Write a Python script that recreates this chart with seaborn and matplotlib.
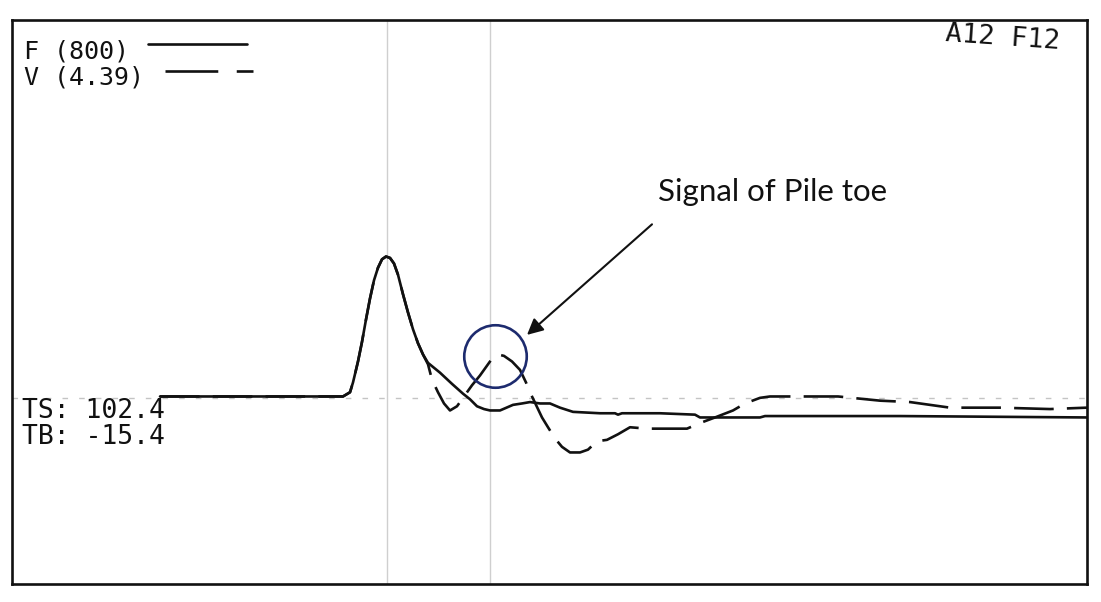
import matplotlib
matplotlib.use("Agg")
import matplotlib.pyplot as plt
import numpy as np
import pandas as pd
import seaborn as sns

# Pile integrity test record: force (solid) and velocity (dashed) traces
time_force = [2.96, 4.76, 5.76, 6.62, 6.76, 6.82, 6.92, 7.00, 7.08, 7.16, 7.24, 7.32,
              7.40, 7.48, 7.56, 7.64, 7.72, 7.82, 7.92, 8.02, 8.12, 8.22, 8.32, 8.56,
              8.80, 9.02, 9.16, 9.30, 9.44, 9.56, 9.76, 10.02, 10.20, 10.36, 10.56,
              10.76, 10.96, 11.22, 11.76, 12.06, 12.12, 12.20, 12.96, 13.66, 13.76,
              14.96, 15.06, 17.76, 21.50]
force = [0.01, 0.01, 0.01, 0.01, 0.04, 0.11, 0.26, 0.40, 0.56, 0.71, 0.84, 0.93,
         0.99, 1.01, 1.00, 0.96, 0.88, 0.74, 0.61, 0.49, 0.39, 0.31, 0.25, 0.18,
         0.10, 0.03, -0.01, -0.06, -0.08, -0.09, -0.09, -0.05, -0.04, -0.03, -0.04,
         -0.04, -0.07, -0.10, -0.11, -0.11, -0.12, -0.11, -0.11, -0.12, -0.14,
         -0.14, -0.13, -0.13, -0.14]

time_velocity = [2.96, 4.76, 5.76, 6.62, 6.76, 6.82, 6.92, 7.00, 7.08, 7.16, 7.24, 7.32,
                 7.40, 7.48, 7.56, 7.64, 7.72, 7.82, 7.92, 8.02, 8.12, 8.22, 8.32, 8.40,
                 8.52, 8.64, 8.76, 8.90, 9.06, 9.20, 9.36, 9.50, 9.62, 9.72, 9.84, 10.00,
                 10.16, 10.28, 10.36, 10.48, 10.60, 10.72, 10.86, 11.00, 11.16, 11.36,
                 11.52, 11.70, 11.90, 12.12, 12.36, 12.70, 13.50, 13.76, 14.06, 14.42,
                 14.66, 14.96, 15.16, 15.76, 16.52, 17.36, 17.96, 18.36, 18.76, 19.76,
                 20.76, 21.50]
velocity = [0.01, 0.01, 0.01, 0.01, 0.04, 0.11, 0.26, 0.40, 0.56, 0.71, 0.84, 0.93,
            0.99, 1.01, 1.00, 0.96, 0.88, 0.74, 0.61, 0.49, 0.39, 0.31, 0.24, 0.13,
            0.04, -0.04, -0.09, -0.06, 0.02, 0.09, 0.16, 0.23, 0.29, 0.31, 0.30, 0.26,
            0.20, 0.11, 0.04, -0.05, -0.14, -0.21, -0.29, -0.35, -0.39, -0.39,
            -0.37, -0.31, -0.30, -0.26, -0.21, -0.22, -0.22, -0.18, -0.14, -0.09,
            -0.04, 0.00, 0.01, 0.01, 0.01, -0.02, -0.03, -0.05, -0.07, -0.07,
            -0.08, -0.07]

cursor_times = [7.50, 9.56]          # vertical cursor lines
toe_time, toe_amp = 9.66, 0.30       # reflection marked as the pile toe signal

force_label = "F (800)"
velocity_label = "V (4.39)"
corner_label = "A12 F12"
ts_label = "TS: 102.4"
tb_label = "TB: -15.4"
note_label = "Signal of Pile toe"

sns.set_theme(style="white")
plt.rcParams["font.family"] = ["DejaVu Sans"]

W, H = 1101, 602
fig = plt.figure(figsize=(W / 100, H / 100), dpi=100)
fig.patch.set_facecolor("white")

# axes box in pixel terms
left_px, right_px, top_px, bottom_px = 12, 1087, 20, 584
ax = fig.add_axes([left_px / W, 1 - bottom_px / H,
                   (right_px - left_px) / W, (bottom_px - top_px) / H])
ax.set_xlim(0, 21.5)
ax.set_ylim(-1.33, 2.70)
ax.set_facecolor("white")
for s in ax.spines.values():
    s.set_color("#111111")
    s.set_linewidth(1.9)
ax.set_xticks([])
ax.set_yticks([])

# reference lines
ax.axhline(0, color="#c4c4c4", lw=1.0, linestyle=(0, (4, 8)), zorder=1)
for t in cursor_times:
    ax.axvline(t, color="#cfcfcf", lw=1.0, zorder=1)

df_f = pd.DataFrame({"t": time_force, "a": force})
df_v = pd.DataFrame({"t": time_velocity, "a": velocity})

sns.lineplot(data=df_v, x="t", y="a", ax=ax, color="#111111", lw=1.9,
             estimator=None, sort=False, linestyle=(0, (15, 5)), zorder=3)
sns.lineplot(data=df_f, x="t", y="a", ax=ax, color="#111111", lw=1.9,
             estimator=None, sort=False, zorder=3)
ax.set_xlabel("")
ax.set_ylabel("")

# legend-like header
mono = ["DejaVu Sans Mono"]
fig.text(24 / W, 1 - 51 / H, force_label, family=mono, fontsize=18,
         ha="left", va="center", color="#111111")
fig.text(24 / W, 1 - 77 / H, velocity_label, family=mono, fontsize=18,
         ha="left", va="center", color="#111111")
fig.add_artist(plt.Line2D([148 / W, 247 / W], [1 - 44 / H, 1 - 44 / H],
                          color="#111111", lw=1.9))
fig.add_artist(plt.Line2D([165 / W, 253 / W], [1 - 71 / H, 1 - 71 / H],
                          color="#111111", lw=1.9, linestyle=(0, (20, 7))))

fig.text(1003 / W, 1 - 38 / H, corner_label, family=mono, fontsize=19.5,
         ha="center", va="center", rotation=-4, color="#111111")

fig.text(22 / W, 1 - 411 / H, ts_label, family=mono, fontsize=19,
         ha="left", va="center", color="#111111")
fig.text(22 / W, 1 - 437 / H, tb_label, family=mono, fontsize=19,
         ha="left", va="center", color="#111111")

# annotation of the toe reflection
ax.plot([toe_time], [toe_amp], marker="o", ms=45, mfc="none",
        mec="#1d2b6e", mew=1.9, zorder=4)
ax.annotate("", xy=(10.30, 0.45), xytext=(12.80, 1.24),
            arrowprops=dict(arrowstyle="-|>", color="#111111", lw=1.5,
                            mutation_scale=24, shrinkA=0, shrinkB=0))
ax.text(15.22, 1.47, note_label, family=["Lato", "DejaVu Sans"], fontsize=22.5,
        ha="center", va="center", color="#111111")

fig.savefig("out.png", dpi=100, facecolor="white")
